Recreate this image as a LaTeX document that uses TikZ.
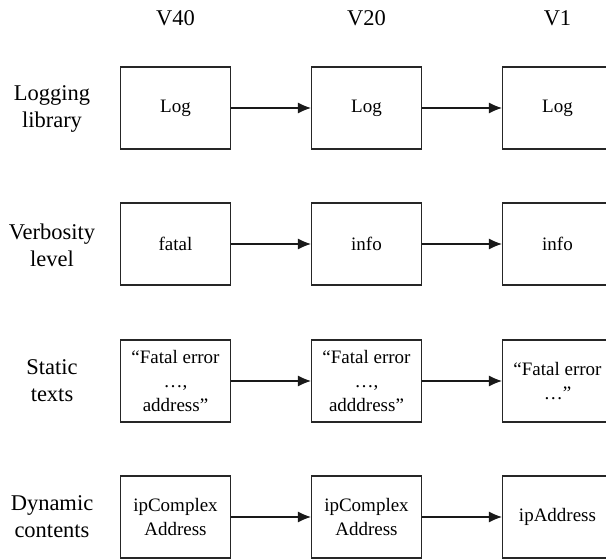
\documentclass[tikz,border=0pt]{standalone}
\usepackage{fontspec}
\setmainfont{Liberation Serif}
\usetikzlibrary{arrows.meta}
\begin{document}
\begin{tikzpicture}[x=1pt,y=-1pt,
  cell/.style={draw=black!85,line width=1.1pt,minimum width=110pt,minimum height=82pt,inner sep=0pt,align=center,font=\fontsize{19}{24}\selectfont},
  rowlabel/.style={align=center,font=\fontsize{22.5}{27}\selectfont},
  colhead/.style={font=\fontsize{22.5}{27}\selectfont},
  flow/.style={draw=black!90,line width=1.1pt,-{Latex[length=13pt,width=11pt]}}]
\useasboundingbox (0,0) rectangle (606,558);
% headers
\node[colhead] (h1) at (175.5,18) {V40};
\node[colhead] (h2) at (366.5,18) {V20};
\node[colhead] (h3) at (557.5,18) {V1};
% row labels
\node[rowlabel] (l1) at (52,109) {Logging\\library};
\node[rowlabel] (l2) at (52,245) {Verbosity\\level};
\node[rowlabel] (l3) at (52,381) {Static\\texts};
\node[rowlabel] (l4) at (52,517) {Dynamic\\contents};
% row 1
\node[cell] (a1) at (175.5,108) {Log};
\node[cell] (a2) at (366.5,108) {Log};
\node[cell] (a3) at (557.5,108) {Log};
% row 2
\node[cell] (b1) at (175.5,244) {fatal};
\node[cell] (b2) at (366.5,244) {info};
\node[cell] (b3) at (557.5,244) {info};
% row 3
\node[cell] (c1) at (175.5,381) {“Fatal error\\…,\\address”};
\node[cell] (c2) at (366.5,381) {“Fatal error\\…,\\adddress”};
\node[cell] (c3) at (557.5,381) {“Fatal error\\…”};
% row 4
\node[cell] (d1) at (175.5,517) {ipComplex\\Address};
\node[cell] (d2) at (366.5,517) {ipComplex\\Address};
\node[cell] (d3) at (557.5,517) {ipAddress};
% arrows
\foreach \r in {a,b,c,d}{
  \draw[flow] (\r1) -- (\r2);
  \draw[flow] (\r2) -- (\r3);
}
\end{tikzpicture}
\end{document}
